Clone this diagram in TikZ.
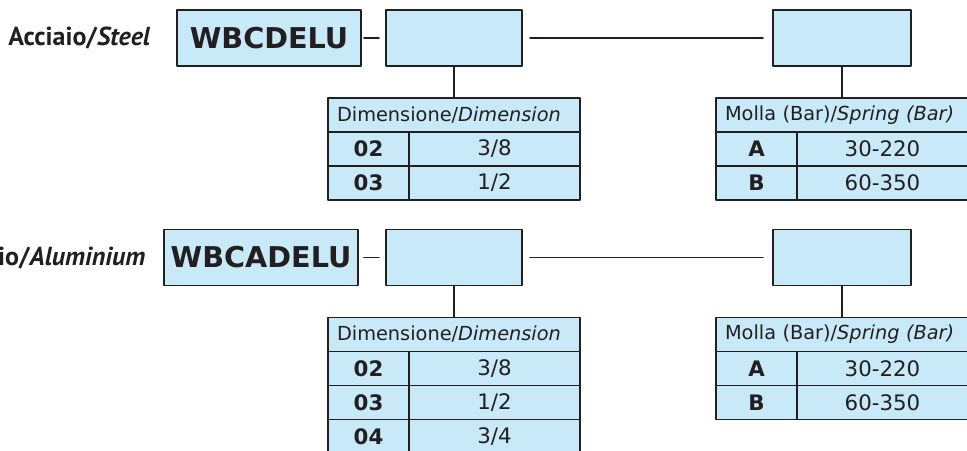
\documentclass[tikz,border=0pt]{standalone}
\usepackage{fontspec}
\setmainfont{DejaVu Sans}
\newfontfamily\labelfont{PT Sans}
\usetikzlibrary{positioning}
\definecolor{boxblue}{RGB}{200,233,248}
\definecolor{ink}{RGB}{35,31,32}

\begin{document}
\begin{tikzpicture}[x=0.75pt,y=-0.75pt,line cap=round,line join=round,
  every node/.append style={text=ink},
  box/.style={draw=ink,line width=1.2pt,fill=boxblue,inner sep=0pt,outer sep=0pt,minimum height=42pt},
  codebox/.style={box,font=\fontsize{21.5}{24}\selectfont\bfseries},
  cell/.style={draw=ink,line width=1.2pt,fill=boxblue,inner sep=0pt,outer sep=0pt,minimum height=25.5pt},
  hdr/.style={cell,inner xsep=6.75pt,text width=175.5pt,align=left,font=\fontsize{14.5}{17}\selectfont},
  keycell/.style={cell,minimum width=60.75pt,anchor=north west,font=\fontsize{16}{19}\selectfont\bfseries},
  valcell/.style={cell,minimum width=128.25pt,anchor=west,font=\fontsize{16}{19}\selectfont},
  wire/.style={draw=ink,line width=1.2pt},
  matlabel/.style={anchor=base east,font=\labelfont\bfseries\fontsize{19.5}{22}\selectfont}]
\useasboundingbox (0,0) rectangle (967,450);

%acciaio
\node[matlabel] (matA) at (155,45) {Acciaio/\textit{Steel}};
\node[codebox,minimum width=138pt] (codeA) at (269,38) {WBCDELU};
\node[box,minimum width=102pt] (selA1) at (454,38) {};
\node[box,minimum width=103.5pt] (selA2) at (842,38) {};
\draw[wire,shorten <=2.25pt,shorten >=5.25pt] (codeA) -- (selA1);
\draw[wire,shorten <=6pt,shorten >=7.5pt] (selA1) -- (selA2);

\node[hdr,below=24pt of selA1] (dimA) {Dimensione/\textit{Dimension}};
\foreach \k/\v [count=\i] in {02/{3/8},03/{1/2}}
{
\node[keycell] (dimA-k\i) at ([yshift={-(\i-1)*25.5pt}]dimA.south west) {\k};
\node[valcell] (dimA-v\i) at (dimA-k\i.east) {\v};
}
\draw[wire] (selA1) -- (dimA);

\node[hdr,below=24pt of selA2] (springA) {Molla (Bar)/\textit{Spring (Bar)}};
\foreach \k/\v [count=\i] in {A/30-220,B/60-350}
{
\node[keycell] (springA-k\i) at ([yshift={-(\i-1)*25.5pt}]springA.south west) {\k};
\node[valcell] (springA-v\i) at (springA-k\i.east) {\v};
}
\draw[wire] (selA2) -- (springA);

%alluminio
\node[matlabel] (matB) at (150,265) {Alluminio/\textit{Aluminium}};
\node[codebox,minimum width=145.5pt] (codeB) at (261,257.5) {WBCADELU};
\node[box,minimum width=102pt] (selB1) at (454,257.5) {};
\node[box,minimum width=103.5pt] (selB2) at (842,257.5) {};
\draw[wire,shorten <=4.5pt,shorten >=5.25pt] (codeB) -- (selB1);
\draw[wire,shorten <=6pt,shorten >=7.5pt] (selB1) -- (selB2);

\node[hdr,below=24pt of selB1] (dimB) {Dimensione/\textit{Dimension}};
\foreach \k/\v [count=\i] in {02/{3/8},03/{1/2},04/{3/4}}
{
\node[keycell] (dimB-k\i) at ([yshift={-(\i-1)*25.5pt}]dimB.south west) {\k};
\node[valcell] (dimB-v\i) at (dimB-k\i.east) {\v};
}
\draw[wire] (selB1) -- (dimB);

\node[hdr,below=24pt of selB2] (springB) {Molla (Bar)/\textit{Spring (Bar)}};
\foreach \k/\v [count=\i] in {A/30-220,B/60-350}
{
\node[keycell] (springB-k\i) at ([yshift={-(\i-1)*25.5pt}]springB.south west) {\k};
\node[valcell] (springB-v\i) at (springB-k\i.east) {\v};
}
\draw[wire] (selB2) -- (springB);
\end{tikzpicture}
\end{document}
